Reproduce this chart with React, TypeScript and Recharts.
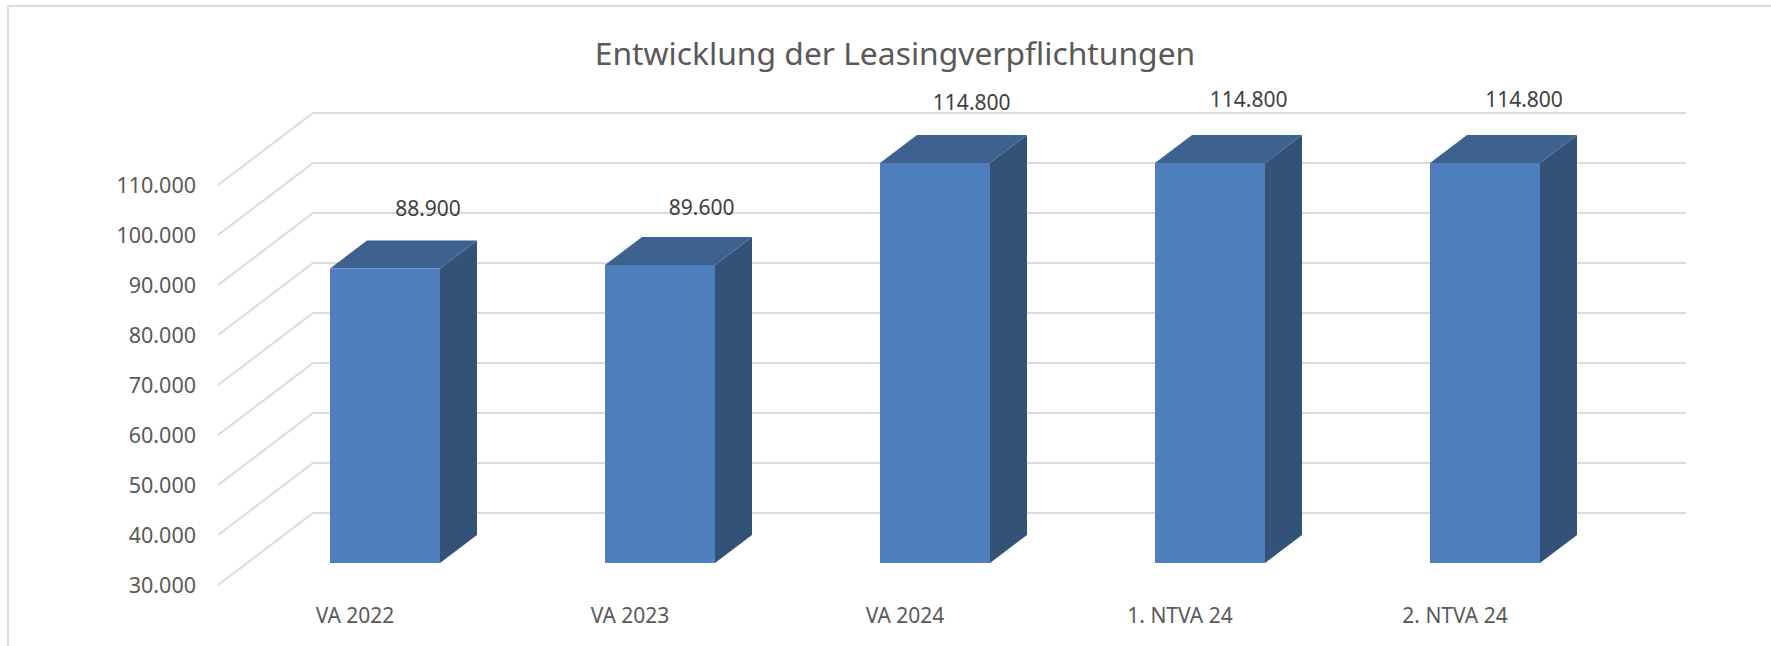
import React from "react";
import { BarChart, Bar, XAxis, YAxis, CartesianGrid, LabelList } from "recharts";

const categories = ["VA 2022", "VA 2023", "VA 2024", "1. NTVA 24", "2. NTVA 24"];
const values = [88900, 89600, 114800, 114800, 114800];
const yTicks = [30000, 40000, 50000, 60000, 70000, 80000, 90000, 100000, 110000];
const title = "Entwicklung der Leasingverpflichtungen";

// The original axis stops at 110.000, so taller columns are cut off there while their labels keep the real value.
const axisMax = yTicks[yTicks.length - 1];
const rows = categories.map((name, i) => ({ name, value: values[i], drawn: Math.min(values[i], axisMax) }));

const labelShiftX = [43, 41.6, 36.7, 38.6, 39];
const labelShiftY = [-60, -58, -60.6, -64, -64];

const FONT = "'Noto Sans', sans-serif";
const fmt = (v: number) => {
  const s = String(Math.round(v));
  return s.slice(0, -3) + "." + s.slice(-3);
};

const DX = 37, DY = 28;

function Bar3D(props: any) {
  const { x, y, width, height } = props;
  const bottom = y + height;
  const r = x + width;
  return (
    <g>
      <polygon points={`${r},${bottom} ${r + DX},${bottom - DY} ${r + DX},${y - DY} ${r},${y}`} fill="#325278" />
      <polygon points={`${x},${y} ${x + DX},${y - DY} ${r + DX},${y - DY} ${r},${y}`} fill="#3E628F" />
      <rect x={x} y={y} width={width} height={height} fill="#4E7FBC" />
    </g>
  );
}

function GridLine(props: any) {
  const { x1, x2, y1 } = props;
  return (
    <path
      d={`M${x1 - 29},${y1 + 22} L${x1 + 66},${y1 - 50} L${x2 + 64},${y1 - 50}`}
      fill="none"
      stroke="#DBDBDB"
      strokeWidth={2}
    />
  );
}

function YTick(props: any) {
  const { y, payload } = props;
  return (
    <text x={196} y={y + 22} dy="0.36em" textAnchor="end" fontFamily={FONT} fontSize={21.5} fill="#595959">
      {fmt(payload.value)}
    </text>
  );
}

function XTick(props: any) {
  const { x, payload } = props;
  return (
    <text x={x - 29.5} y={615} dy="0.36em" textAnchor="middle" fontFamily={FONT} fontSize={21} fill="#595959">
      {payload.value}
    </text>
  );
}

function ValueLabel(props: any) {
  const { x, y, width, value, index } = props;
  return (
    <text
      x={x + width / 2 + labelShiftX[index]}
      y={y + labelShiftY[index]}
      dy="0.36em"
      textAnchor="middle"
      fontFamily={FONT}
      fontSize={21}
      fill="#404040"
    >
      {fmt(value)}
    </text>
  );
}

export default function App() {
  return (
    <div style={{ position: "absolute", left: 0, top: 0, width: 1771, height: 646, overflow: "hidden", background: "#fff" }}>
      <div style={{ position: "absolute", left: 8, top: 5, right: 0, height: 2, background: "#DBDBDB" }} />
      <div style={{ position: "absolute", left: 7, top: 5, bottom: 0, width: 2, background: "#DBDBDB" }} />
      <div style={{ position: "absolute", left: 0, width: 1790, top: 31, textAlign: "center", fontFamily: FONT, fontSize: 31.8, lineHeight: "44px", color: "#595959" }}>
        {title}
      </div>
      <BarChart
        width={1771}
        height={646}
        data={rows}
        margin={{ top: 163, right: 149, bottom: 43, left: 187 }}
        style={{ position: "absolute", left: 0, top: 0 }}
      >
        <CartesianGrid vertical={false} horizontal={(p: any) => <GridLine key={p.key ?? p.y1} {...p} />} />
        <XAxis dataKey="name" axisLine={false} tickLine={false} height={40} tick={<XTick />} interval={0} />
        <YAxis
          width={60}
          domain={[30000, axisMax]}
          ticks={yTicks}
          axisLine={false}
          tickLine={false}
          tick={<YTick />}
          interval={0}
        />
        <Bar dataKey="drawn" barSize={110} shape={<Bar3D />} isAnimationActive={false}>
          <LabelList dataKey="value" content={<ValueLabel />} />
        </Bar>
      </BarChart>
    </div>
  );
}
